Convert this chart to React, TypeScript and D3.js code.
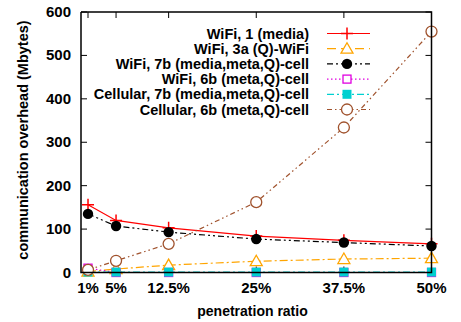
import * as d3 from 'd3'
import { useEffect, useRef } from 'react';

// penetration ratio (%)
const ratios = [1, 5, 12.5, 25, 37.5, 50];
const tickLabels = ["1%", "5%", "12.5%", "25%", "37.5%", "50%"];
const yTicks = [0, 100, 200, 300, 400, 500, 600];

const wifiMedia = [156, 120, 103, 84, 74, 66];
const wifiQ = [2, 8, 17, 26, 31, 33];
const wifiMetaCell = [135, 107, 93, 77, 69, 61];
const wifiMetaQCell = [10, 0, 0, 0, 0, 0];
const cellMetaCell = [1, 1, 1, 1, 1, 1];
const cellMetaQCell = [6, 27, 66, 162, 334, 555];

const series = [
    { name: "WiFi, 1 (media)", values: wifiMedia, color: "#ff0000", dash: "", marker: "plus" },
    { name: "WiFi, 3a (Q)-WiFi", values: wifiQ, color: "#ffa500", dash: "8,3,2,3", legendDash: "9,5", marker: "triangle" },
    { name: "WiFi, 7b (media,meta,Q)-cell", values: wifiMetaCell, color: "#000000", dash: "6,3,2,3,2,3", marker: "dot" },
    { name: "WiFi, 6b (meta,Q)-cell", values: wifiMetaQCell, color: "#e000e0", dash: "1.5,2.5", marker: "square" },
    { name: "Cellular, 7b (media,meta,Q)-cell", values: cellMetaCell, color: "#00d0d0", dash: "7,3,2,3", marker: "fsquare" },
    { name: "Cellular, 6b (meta,Q)-cell", values: cellMetaQCell, color: "#a0522d", dash: "5,3,1.5,3,1.5,3", marker: "circle" },
];

function marker( sel, kind, color ) {
    if ( kind === "plus" ) {
        sel.append( "path" ).attr( "d", "M-6,0H6M0,-6V6" )
            .attr( "stroke", color ).attr( "stroke-width", 1.5 ).attr( "fill", "none" );
    } else if ( kind === "triangle" ) {
        sel.append( "path" ).attr( "d", "M0,-6L6,4.5L-6,4.5Z" )
            .attr( "stroke", color ).attr( "stroke-width", 1.3 ).attr( "fill", "white" );
    } else if ( kind === "dot" ) {
        sel.append( "circle" ).attr( "r", 5.2 ).attr( "fill", color );
    } else if ( kind === "square" ) {
        sel.append( "rect" ).attr( "x", -4 ).attr( "y", -4 ).attr( "width", 8 ).attr( "height", 8 )
            .attr( "stroke", color ).attr( "stroke-width", 1.3 ).attr( "fill", "white" );
    } else if ( kind === "fsquare" ) {
        sel.append( "rect" ).attr( "x", -4.5 ).attr( "y", -4.5 ).attr( "width", 9 ).attr( "height", 9 )
            .attr( "fill", color );
    } else {
        sel.append( "circle" ).attr( "r", 5.5 )
            .attr( "stroke", color ).attr( "stroke-width", 1.3 ).attr( "fill", "white" );
    }
}

function makeChart( svgEl ) {
    const svg = d3.select( svgEl );
    svg.selectAll( "*" ).remove();
    const font = "'Liberation Sans', Arial, sans-serif";
    const L = 81, R = 431.5, T = 12, B = 272.5;

    const scX = d3.scaleLinear().domain( [0, 50] ).range( [L, R] );
    const scY = d3.scaleLinear().domain( [0, 600] ).range( [B, T] );

    // ticks (inward, mirrored)
    const ticks = svg.append( "g" ).attr( "stroke", "black" ).attr( "stroke-width", 1 );
    yTicks.forEach( v => {
        ticks.append( "line" ).attr( "x1", L ).attr( "x2", L + 6 ).attr( "y1", scY(v) ).attr( "y2", scY(v) );
        ticks.append( "line" ).attr( "x1", R ).attr( "x2", R - 6 ).attr( "y1", scY(v) ).attr( "y2", scY(v) );
    } );
    ratios.forEach( v => {
        ticks.append( "line" ).attr( "x1", scX(v) ).attr( "x2", scX(v) ).attr( "y1", B ).attr( "y2", B - 6 );
        ticks.append( "line" ).attr( "x1", scX(v) ).attr( "x2", scX(v) ).attr( "y1", T ).attr( "y2", T + 6 );
    } );

    // tick labels
    svg.append( "g" ).selectAll( "text" ).data( yTicks ).enter().append( "text" )
        .attr( "x", 71 ).attr( "y", d => scY(d) + 5 )
        .attr( "text-anchor", "end" ).attr( "font-family", font )
        .attr( "font-size", 15 ).attr( "font-weight", "bold" )
        .text( d => d );
    svg.append( "g" ).selectAll( "text" ).data( ratios ).enter().append( "text" )
        .attr( "x", d => scX(d) ).attr( "y", 293 )
        .attr( "text-anchor", "middle" ).attr( "font-family", font )
        .attr( "font-size", 15 ).attr( "font-weight", "bold" )
        .text( (d,i) => tickLabels[i] );

    // axis titles
    svg.append( "text" ).attr( "x", 252.5 ).attr( "y", 316 )
        .attr( "text-anchor", "middle" ).attr( "font-family", font )
        .attr( "font-size", 14 ).attr( "font-weight", "bold" )
        .text( "penetration ratio" );
    svg.append( "text" ).attr( "transform", "translate(28,140) rotate(-90)" )
        .attr( "text-anchor", "middle" ).attr( "font-family", font )
        .attr( "font-size", 14.5 ).attr( "font-weight", "bold" )
        .text( "communication overhead (Mbytes)" );

    // series
    const line = d3.line().x( d => scX(d[0]) ).y( d => scY(d[1]) );
    series.forEach( s => {
        const pts = ratios.map( (r,i) => [r, s.values[i]] );
        svg.append( "path" ).attr( "d", line( pts ) )
            .attr( "fill", "none" ).attr( "stroke", s.color ).attr( "stroke-width", 1.2 )
            .attr( "stroke-dasharray", s.dash );
        svg.append( "g" ).selectAll( "g" ).data( pts ).enter().append( "g" )
            .attr( "transform", d => "translate(" + scX(d[0]) + "," + scY(d[1]) + ")" )
            .each( function() { marker( d3.select( this ), s.marker, s.color ); } );
    } );

    // legend
    const leg = svg.append( "g" );
    series.forEach( (s, i) => {
        const y = 33.5 + i * 15.2;
        leg.append( "text" ).attr( "x", 309 ).attr( "y", y + 5 )
            .attr( "text-anchor", "end" ).attr( "font-family", font )
            .attr( "font-size", 14.5 ).attr( "font-weight", "bold" )
            .text( s.name );
        leg.append( "line" ).attr( "x1", 327 ).attr( "x2", 370 ).attr( "y1", y ).attr( "y2", y )
            .attr( "stroke", s.color ).attr( "stroke-width", 1.2 )
            .attr( "stroke-dasharray", s.legendDash || s.dash );
        const g = leg.append( "g" ).attr( "transform", "translate(347," + y + ")" );
        marker( g, s.marker, s.color );
    } );

    // frame
    svg.append( "path" ).attr( "d", `M${L},${T}V${B}H${R}V${T}H${L}` )
        .attr( "fill", "none" ).attr( "stroke", "black" ).attr( "stroke-width", 1.5 );
}

function App() {
    const ref = useRef( null );
    useEffect( () => {
        makeChart( ref.current );
    } );

    return (
        <svg ref={ref} width="461" height="322"
             style={{ position: "absolute", left: 0, top: 0, background: "white" }}>
        </svg>
    );
}

export default App;
